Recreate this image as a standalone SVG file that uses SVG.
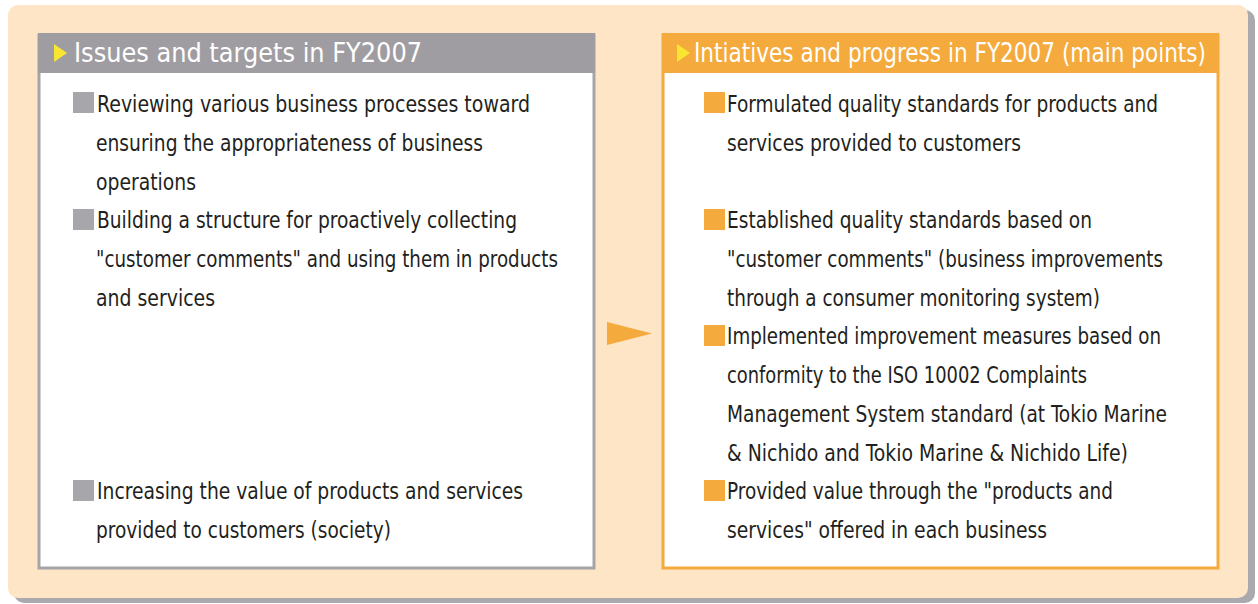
<svg xmlns="http://www.w3.org/2000/svg" width="1258" height="604" viewBox="0 0 1258 604">
<style>
.t{font-family:"Liberation Sans Narrow","DejaVu Sans Condensed","Liberation Sans",sans-serif;font-size:23px;fill:#231f20}
.h{font-family:"Liberation Sans Narrow","DejaVu Sans Condensed","Liberation Sans",sans-serif;font-size:26px;fill:#ffffff}
.gsq{fill:#a7a6ab}
.osq{fill:#f4aa3d}
</style>
<g id="background">
<rect x="14" y="10" width="1241" height="593" rx="10" fill="#aaa9ae"/>
<rect x="8" y="5" width="1240" height="593" rx="10" fill="#fde5c5"/>
</g>
<g id="left-box">
<rect x="39" y="35" width="555" height="533" fill="#ffffff" stroke="#a5a4a8" stroke-width="3"/>
<rect x="38" y="33" width="557" height="40" fill="#9f9da2"/>
<polygon points="54,44 67,53 54,62" fill="#f9e632"/>
<text class="h" x="74" y="62" textLength="348" lengthAdjust="spacingAndGlyphs">Issues and targets in FY2007</text>
<rect class="gsq" x="73" y="92" width="21" height="21"/>
<text class="t" x="97" y="112" textLength="433" lengthAdjust="spacingAndGlyphs">Reviewing various business processes toward</text>
<text class="t" x="96" y="151" textLength="387" lengthAdjust="spacingAndGlyphs">ensuring the appropriateness of business</text>
<text class="t" x="96" y="190" textLength="100" lengthAdjust="spacingAndGlyphs">operations</text>
<rect class="gsq" x="73" y="209" width="21" height="21"/>
<text class="t" x="97" y="228" textLength="420" lengthAdjust="spacingAndGlyphs">Building a structure for proactively collecting</text>
<text class="t" x="96" y="267" textLength="462" lengthAdjust="spacingAndGlyphs">"customer comments" and using them in products</text>
<text class="t" x="96" y="306" textLength="119" lengthAdjust="spacingAndGlyphs">and services</text>
<rect class="gsq" x="73" y="480" width="21" height="21"/>
<text class="t" x="97" y="499" textLength="426" lengthAdjust="spacingAndGlyphs">Increasing the value of products and services</text>
<text class="t" x="96" y="538" textLength="295" lengthAdjust="spacingAndGlyphs">provided to customers (society)</text>
</g>
<g id="connectors">
<polygon points="607,322 652,333.5 607,345" fill="#f4aa3d"/>
</g>
<g id="right-box">
<rect x="663" y="35" width="555" height="533" fill="#ffffff" stroke="#f4aa3d" stroke-width="3"/>
<rect x="662" y="33" width="557" height="40" fill="#f4aa3d"/>
<polygon points="677,44 690,53 677,62" fill="#f9e632"/>
<text class="h" x="694" y="62" textLength="512" lengthAdjust="spacingAndGlyphs">Intiatives and progress in FY2007 (main points)</text>
<rect class="osq" x="704" y="92" width="21" height="21"/>
<text class="t" x="727" y="112" textLength="431" lengthAdjust="spacingAndGlyphs">Formulated quality standards for products and</text>
<text class="t" x="727" y="151" textLength="294" lengthAdjust="spacingAndGlyphs">services provided to customers</text>
<rect class="osq" x="704" y="209" width="21" height="21"/>
<text class="t" x="727" y="228" textLength="365" lengthAdjust="spacingAndGlyphs">Established quality standards based on</text>
<text class="t" x="727" y="267" textLength="436" lengthAdjust="spacingAndGlyphs">"customer comments" (business improvements</text>
<text class="t" x="727" y="306" textLength="373" lengthAdjust="spacingAndGlyphs">through a consumer monitoring system)</text>
<rect class="osq" x="704" y="325" width="21" height="21"/>
<text class="t" x="727" y="344" textLength="434" lengthAdjust="spacingAndGlyphs">Implemented improvement measures based on</text>
<text class="t" x="727" y="383" textLength="360" lengthAdjust="spacingAndGlyphs">conformity to the ISO 10002 Complaints</text>
<text class="t" x="727" y="422" textLength="440" lengthAdjust="spacingAndGlyphs">Management System standard (at Tokio Marine</text>
<text class="t" x="727" y="461" textLength="401" lengthAdjust="spacingAndGlyphs">&amp; Nichido and Tokio Marine &amp; Nichido Life)</text>
<rect class="osq" x="704" y="480" width="21" height="21"/>
<text class="t" x="727" y="499" textLength="386" lengthAdjust="spacingAndGlyphs">Provided value through the "products and</text>
<text class="t" x="727" y="538" textLength="320" lengthAdjust="spacingAndGlyphs">services" offered in each business</text>
</g>
</svg>
